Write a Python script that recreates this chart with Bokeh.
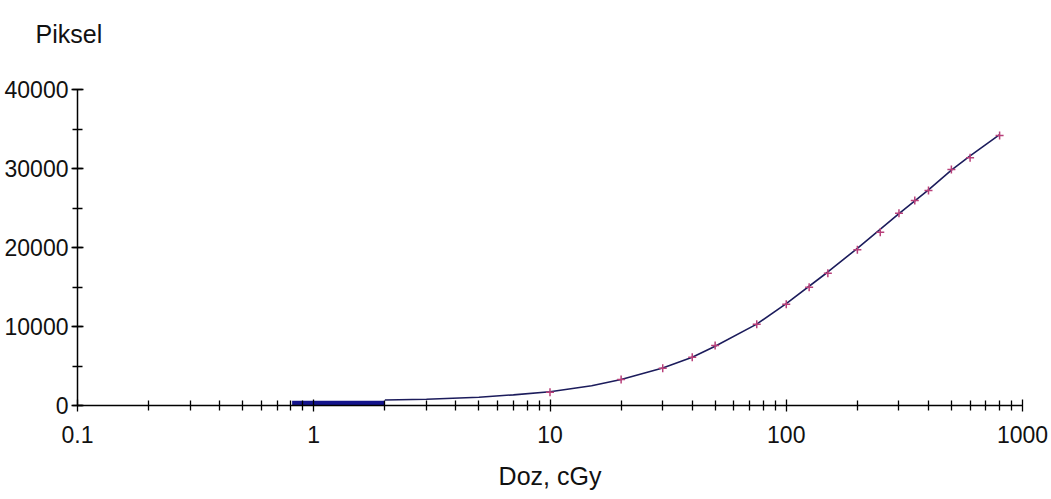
from bokeh.plotting import figure
from bokeh.models import Range1d, FixedTicker, SingleIntervalTicker, Title
from bokeh.embed import file_html
from bokeh.resources import INLINE

# measured points (dose in cGy, pixel value)
dose = [10, 20, 30, 40, 50, 75, 100, 125, 150, 200, 250, 300, 350, 400, 500, 600, 800]
piksel = [1680, 3290, 4720, 6110, 7600, 10300, 12830, 14970, 16750, 19700,
          21940, 24340, 25950, 27200, 29870, 31350, 34180]

# fitted curve
fit_dose = [2, 3, 5, 7, 10, 15, 20, 30, 40, 50, 75, 100, 150, 200, 300, 400, 500, 600, 800]
fit_val = [700, 800, 1050, 1350, 1750, 2500, 3300, 4750, 6100, 7500, 10300, 12900,
           16900, 19900, 24300, 27300, 29800, 31600, 34300]

# thick low-dose segment
low_dose = [0.81, 2]
low_val = [300, 300]

x_major = [0.1, 1, 10, 100, 1000]
x_labels = ["0.1", "1", "10", "100", "1000"]
x_minor = [m * d for d in [0.1, 1, 10, 100] for m in range(2, 10)]

FONT = "Liberation Sans"

# frame extends a little above 40000 so the "Piksel" title can sit higher;
# the axis line itself is bounded to 0..40000
p = figure(width=1051, height=499, x_axis_type="log",
           x_range=Range1d(0.1, 1000), y_range=Range1d(0, 43418),
           output_backend="svg", toolbar_location=None,
           min_border_left=77, min_border_right=29,
           min_border_top=62, min_border_bottom=94)
p.outline_line_color = None
p.grid.visible = False
p.background_fill_color = "white"
p.border_fill_color = "white"

p.line(low_dose, low_val, line_width=5, color="#14148c")
p.line(fit_dose, fit_val, line_width=1.6, color="#1c1c5c")
p.scatter(dose, piksel, marker="cross", size=8, line_width=1.5, color="#b8407a")

xa = p.xaxis[0]
xa.ticker = FixedTicker(ticks=x_major, minor_ticks=x_minor)
xa.major_label_overrides = {v: s for v, s in zip(x_major, x_labels)}
ya = p.yaxis[0]
ya.ticker = SingleIntervalTicker(interval=10000, num_minor_ticks=2)
ya.bounds = (0, 40000)

for ax in (xa, ya):
    ax.axis_line_color = "black"
    ax.axis_line_width = 1.5
    ax.major_tick_line_color = "black"
    ax.minor_tick_line_color = "black"
    ax.major_tick_line_width = 1.3
    ax.minor_tick_line_width = 1.3
    ax.major_tick_in = 6
    ax.major_tick_out = 6
    ax.minor_tick_in = 5
    ax.minor_tick_out = 5
    ax.major_label_text_font = FONT
    ax.major_label_text_font_size = "23px"
    ax.major_label_text_color = "#111111"
xa.major_label_standoff = 14
ya.major_label_standoff = 3

xa.axis_label = "Doz, cGy"
xa.axis_label_text_font = FONT
xa.axis_label_text_font_size = "25px"
xa.axis_label_text_font_style = "normal"
xa.axis_label_text_color = "#111111"
xa.axis_label_standoff = 16

p.add_layout(Title(text="Piksel", align="left", offset=-42, standoff=30,
                   text_font=FONT, text_font_size="25px",
                   text_font_style="normal", text_color="#111111"), "above")

open("out.html", "w").write(file_html(p, INLINE))
